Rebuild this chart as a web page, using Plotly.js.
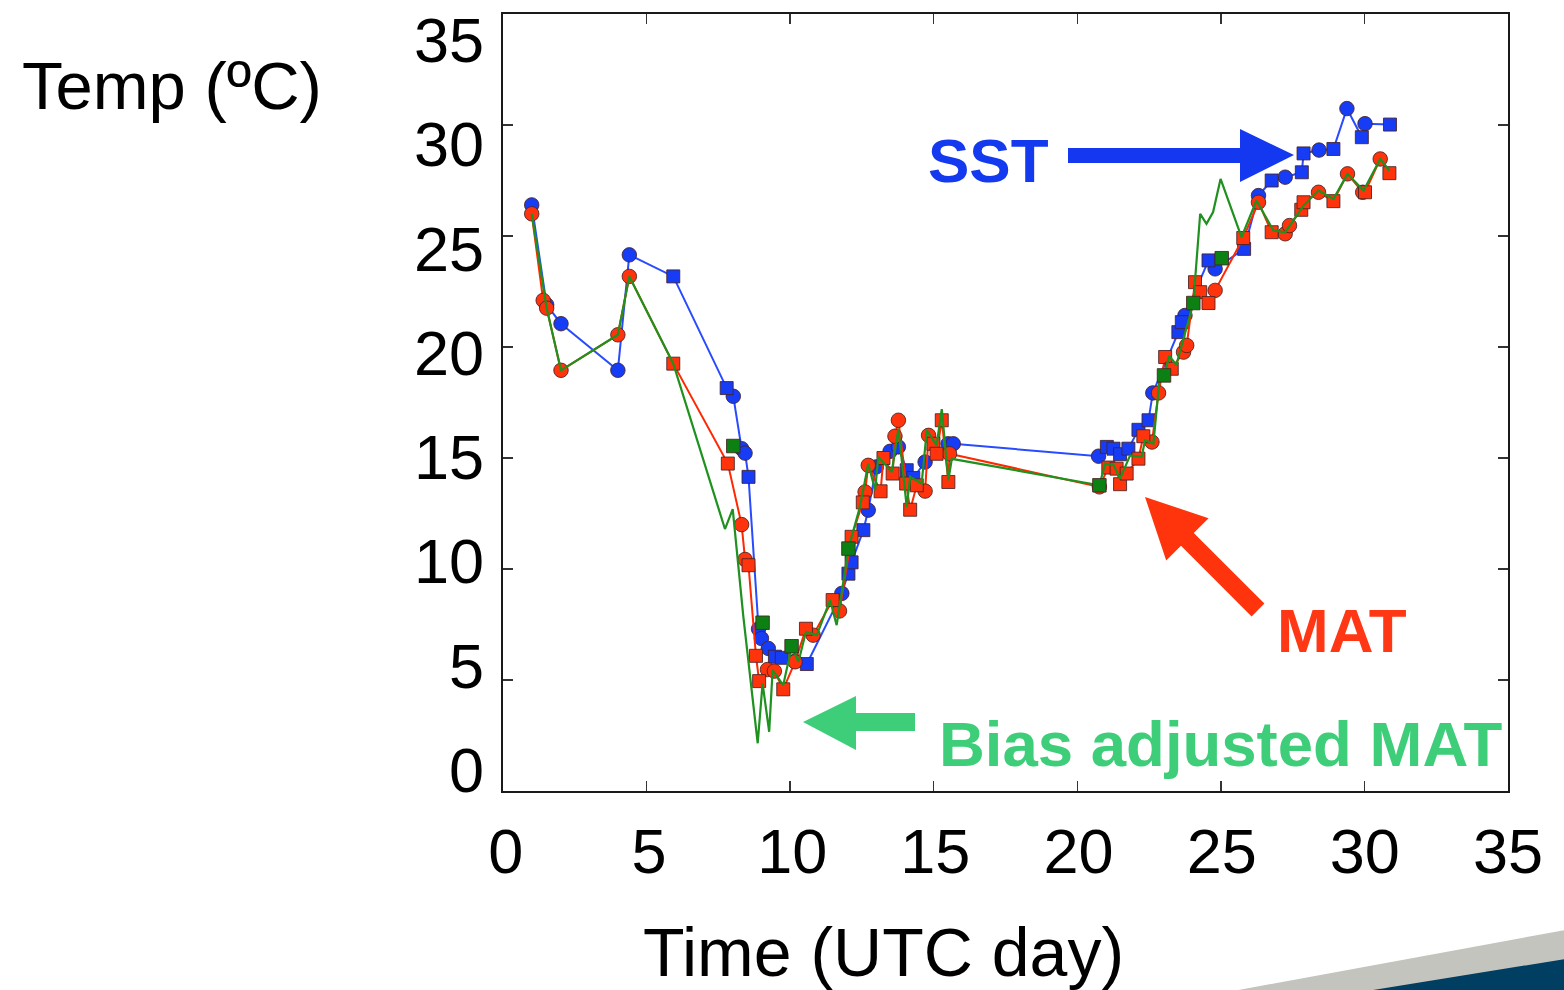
<!DOCTYPE html>
<html>
<head>
<meta charset="utf-8">
<script src="https://cdn.plot.ly/plotly-3.0.1.min.js"></script>
<style>html,body{margin:0;padding:0;background:#fff;}#chart{width:1564px;height:990px;}</style>
</head>
<body>
<div id="chart"></div>
<script>
// ---- Data (UTC day, temperature in degC) ----
const tickVals = [0, 5, 10, 15, 20, 25, 30, 35];
const tickText = ['0', '5', '10', '15', '20', '25', '30', '35'];

// SST, platform A (circles)
const sstCircDay  = [1.0, 1.52, 2.02, 4.0, 4.4, 8.02, 8.31, 8.43, 8.9, 9.0, 9.24, 10.17, 11.8, 12.72, 13.0, 13.48, 13.77, 14.7, 15.5, 15.68, 20.74, 22.63, 23.75, 24.8, 26.31, 27.24, 28.42, 29.39, 30.02];
const sstCircTemp = [26.4, 21.9, 21.05, 18.95, 24.15, 17.78, 15.42, 15.22, 7.3, 6.87, 6.42, 5.85, 8.9, 12.65, 14.6, 15.3, 15.5, 14.82, 15.64, 15.64, 15.08, 17.93, 21.42, 23.52, 26.82, 27.65, 28.87, 30.74, 30.06];
// SST, platform B (squares)
const sstSqDay  = [5.93, 7.79, 8.55, 9.47, 9.71, 10.58, 12.03, 12.14, 12.55, 14.06, 14.29, 21.03, 21.26, 21.49, 21.78, 22.13, 22.48, 23.52, 23.64, 24.57, 25.81, 26.77, 27.82, 27.88, 28.92, 29.91, 30.89];
const sstSqTemp = [23.18, 18.15, 14.15, 6.05, 6.0, 5.72, 9.79, 10.3, 11.75, 14.45, 14.1, 15.5, 15.42, 15.17, 15.42, 16.27, 16.7, 20.67, 21.12, 23.9, 24.42, 27.5, 27.87, 28.72, 28.92, 29.45, 30.02];

// MAT, platform A (circles)
const matCircDay  = [1.0, 1.40, 1.52, 2.02, 4.0, 4.4, 8.31, 8.43, 9.21, 9.45, 10.17, 10.8, 11.72, 12.61, 12.72, 13.65, 13.77, 14.7, 14.82, 15.55, 20.77, 22.6, 22.83, 23.7, 23.81, 24.8, 26.31, 27.24, 27.39, 28.4, 29.41, 29.94, 30.55];
const matCircTemp = [26.0, 22.1, 21.75, 18.95, 20.55, 23.18, 12.0, 10.43, 5.47, 5.4, 5.82, 7.02, 8.11, 13.47, 14.67, 15.98, 16.7, 13.51, 16.02, 15.19, 13.7, 15.72, 17.93, 19.77, 20.07, 22.55, 26.52, 25.1, 25.47, 26.97, 27.8, 26.97, 28.47];
// MAT, platform B (squares)
const matSqDay  = [5.93, 7.83, 8.55, 8.81, 8.92, 9.76, 10.55, 11.48, 12.14, 12.53, 13.15, 13.25, 13.57, 14.04, 14.18, 14.41, 14.99, 15.1, 15.28, 15.51, 21.08, 21.37, 21.49, 21.72, 22.13, 22.3, 23.06, 23.29, 24.1, 24.28, 24.57, 25.78, 26.77, 27.8, 27.88, 28.92, 30.02, 30.87];
const matSqTemp = [19.25, 14.75, 10.17, 6.09, 4.95, 4.58, 7.31, 8.6, 11.45, 13.0, 13.5, 15.0, 14.3, 13.85, 12.67, 13.77, 15.64, 15.19, 16.7, 13.92, 14.57, 14.52, 13.82, 14.3, 14.97, 15.98, 19.55, 19.02, 22.92, 22.47, 21.98, 24.91, 25.17, 26.18, 26.52, 26.57, 26.97, 27.83];

// Bias adjusted MAT (line)
const biasDay  = [1.0, 1.52, 2.02, 4.0, 4.4, 5.93, 7.73, 8.0, 8.37, 8.87, 9.04, 9.27, 9.39, 9.76, 10.05, 10.29, 10.55, 10.93, 11.39, 11.62, 12.03, 12.43, 12.72, 12.96, 13.07, 13.54, 13.77, 14.06, 14.18, 14.58, 14.76, 15.1, 15.28, 15.51, 15.63, 20.77, 20.97, 21.26, 21.49, 21.84, 22.24, 22.36, 22.65, 22.86, 23.02, 23.2, 23.45, 24.04, 24.28, 24.5, 24.73, 24.99, 25.72, 26.24, 26.83, 27.24, 27.88, 28.4, 28.92, 29.41, 29.97, 30.55, 30.87];
const biasTemp = [26.0, 21.75, 18.95, 20.55, 23.18, 19.25, 11.8, 12.7, 7.85, 2.15, 4.85, 2.67, 5.45, 4.77, 6.5, 5.82, 7.17, 7.02, 8.6, 7.47, 10.92, 12.8, 14.74, 13.55, 15.05, 14.37, 16.32, 12.8, 14.15, 13.85, 16.25, 15.57, 17.2, 14.0, 14.96, 13.77, 14.74, 14.7, 14.07, 15.12, 15.05, 15.8, 15.65, 18.5, 18.72, 19.6, 19.2, 21.98, 26.0, 25.55, 26.08, 27.57, 24.95, 26.6, 25.25, 25.17, 26.37, 27.05, 26.67, 27.8, 27.05, 28.47, 27.95];
// Bias adjusted MAT, platform C (green squares)
const biasSqDay  = [8.02, 9.04, 10.05, 12.03, 20.77, 23.02, 24.04, 25.03];
const biasSqTemp = [15.54, 7.58, 6.52, 10.92, 13.77, 18.72, 21.98, 24.0];

// ---- helpers ----
function mergeSorted(ax, ay, bx, by) {
  const pts = [];
  ax.forEach((x, i) => pts.push([x, ay[i]]));
  bx.forEach((x, i) => pts.push([x, by[i]]));
  pts.sort((p, q) => p[0] - q[0]);
  return {x: pts.map(p => p[0]), y: pts.map(p => p[1])};
}
const W = 1564, H = 990;
const ML = 503, MR = 56, MT = 14, MB = 199;
const PW = W - ML - MR, PH = H - MT - MB;
function px(x) { return (x - ML) / PW; }
function py(y) { return (H - MB - y) / PH; }
function poly(pts) {
  return 'M' + pts.map(p => px(p[0]).toFixed(5) + ',' + py(p[1]).toFixed(5)).join(' L') + ' Z';
}

const BLUE = 'rgb(22,60,245)', BLUE_L = 'rgb(40,75,255)';
const RED = 'rgb(255,52,12)', RED_L = 'rgb(255,40,0)';
const GREEN_SQ = 'rgb(12,128,18)', GREEN_L = 'rgb(30,145,30)';
const EDGE = {color: 'rgba(70,35,35,0.85)', width: 1};
const MS = 14.5;

const sstLine = mergeSorted(sstCircDay, sstCircTemp, sstSqDay, sstSqTemp);
const matLine = mergeSorted(matCircDay, matCircTemp, matSqDay, matSqTemp);

const traces = [
  {x: sstLine.x, y: sstLine.y, mode: 'lines', line: {color: BLUE_L, width: 2}, hoverinfo: 'skip'},
  {x: sstCircDay, y: sstCircTemp, mode: 'markers', marker: {symbol: 'circle', size: MS, color: BLUE, line: EDGE}},
  {x: sstSqDay, y: sstSqTemp, mode: 'markers', marker: {symbol: 'square', size: MS - 1.5, color: BLUE, line: EDGE}},
  {x: matLine.x, y: matLine.y, mode: 'lines', line: {color: RED_L, width: 2}, hoverinfo: 'skip'},
  {x: matCircDay, y: matCircTemp, mode: 'markers', marker: {symbol: 'circle', size: MS, color: RED, line: EDGE}},
  {x: matSqDay, y: matSqTemp, mode: 'markers', marker: {symbol: 'square', size: MS - 1.5, color: RED, line: EDGE}},
  {x: biasDay, y: biasTemp, mode: 'lines', line: {color: GREEN_L, width: 2.2}, hoverinfo: 'skip'},
  {x: biasSqDay, y: biasSqTemp, mode: 'markers', marker: {symbol: 'square', size: MS - 1, color: GREEN_SQ, line: EDGE}},
  {x: [null], y: [null], xaxis: 'x2', yaxis: 'y2', mode: 'markers', hoverinfo: 'skip'}
];

const FONT = 'Liberation Sans, Arial, Helvetica, sans-serif';
const axBase = {
  showgrid: false, zeroline: false, showline: true, linecolor: '#1a1a1a', linewidth: 2.2,
  mirror: 'ticks', ticks: 'inside', ticklen: 10, tickwidth: 1.3, tickcolor: '#333',
  tickvals: tickVals, showticklabels: false, autorange: false, fixedrange: true
};
const labAx = {
  showgrid: false, zeroline: false, showline: false, ticks: '',
  tickvals: tickVals, ticktext: tickText, autorange: false, fixedrange: true,
  tickfont: {family: FONT, size: 63, color: '#000'}
};

const layout = {
  width: W, height: H,
  margin: {l: ML, r: MR, t: MT, b: MB, pad: 0},
  paper_bgcolor: '#fff', plot_bgcolor: 'rgba(0,0,0,0)',
  showlegend: false,
  font: {family: FONT, color: '#000'},
  xaxis: Object.assign({}, axBase, {range: [0, 35]}),
  yaxis: Object.assign({}, axBase, {range: [0, 35]}),
  xaxis2: Object.assign({}, labAx, {overlaying: 'x', anchor: 'y', side: 'bottom', range: [-0.1, 35.0], ticklabelstandoff: 18}),
  yaxis2: Object.assign({}, labAx, {overlaying: 'y', anchor: 'x', side: 'left', range: [-1.007, 36.247], ticklabelstandoff: 18}),
  annotations: [
    {text: 'Temp (ºC)', xref: 'paper', yref: 'paper', x: px(20), y: py(85), xanchor: 'left', yanchor: 'middle', showarrow: false, font: {family: FONT, size: 67, color: '#000'}},
    {text: 'Time (UTC day)', xref: 'paper', yref: 'paper', x: px(883), y: py(952), xanchor: 'center', yanchor: 'middle', showarrow: false, font: {family: FONT, size: 68, color: '#000'}},
    {text: '<b>SST</b>', xref: 'paper', yref: 'paper', x: px(988), y: py(160), xanchor: 'center', yanchor: 'middle', showarrow: false, font: {family: FONT, size: 62, color: 'rgb(20,58,240)'}},
    {text: '<b>MAT</b>', xref: 'paper', yref: 'paper', x: px(1342), y: py(630), xanchor: 'center', yanchor: 'middle', showarrow: false, font: {family: FONT, size: 62, color: 'rgb(255,55,20)'}},
    {text: '<b>Bias adjusted MAT</b>', xref: 'paper', yref: 'paper', x: px(1221), y: py(744), xanchor: 'center', yanchor: 'middle', showarrow: false, font: {family: FONT, size: 63.5, color: 'rgb(62,206,122)'}}
  ],
  shapes: [
    {type: 'path', xref: 'paper', yref: 'paper', layer: 'above', line: {width: 0}, fillcolor: 'rgb(20,55,240)',
     path: poly([[1068,148],[1240,148],[1240,129],[1294,155],[1240,182],[1240,163],[1068,163]])},
    {type: 'path', xref: 'paper', yref: 'paper', layer: 'above', line: {width: 0}, fillcolor: 'rgb(255,52,12)',
     path: poly([[1145,497],[1208.6,518.2],[1193.8,533.0],[1264.4,603.6],[1251.6,616.4],[1181.0,545.8],[1166.2,560.6]])},
    {type: 'path', xref: 'paper', yref: 'paper', layer: 'above', line: {width: 0}, fillcolor: 'rgb(62,206,122)',
     path: poly([[803,722],[856,696],[856,713],[915,713],[915,731],[856,731],[856,750]])},
    {type: 'path', xref: 'paper', yref: 'paper', layer: 'above', line: {width: 0}, fillcolor: 'rgb(196,196,190)',
     path: poly([[1233,991],[1565,930],[1565,991]])},
    {type: 'path', xref: 'paper', yref: 'paper', layer: 'above', line: {width: 0}, fillcolor: 'rgb(0,62,98)',
     path: poly([[1367,991],[1565,959],[1565,991]])}
  ]
};

Plotly.newPlot('chart', traces, layout, {staticPlot: true, displayModeBar: false});
</script>
</body>
</html>
